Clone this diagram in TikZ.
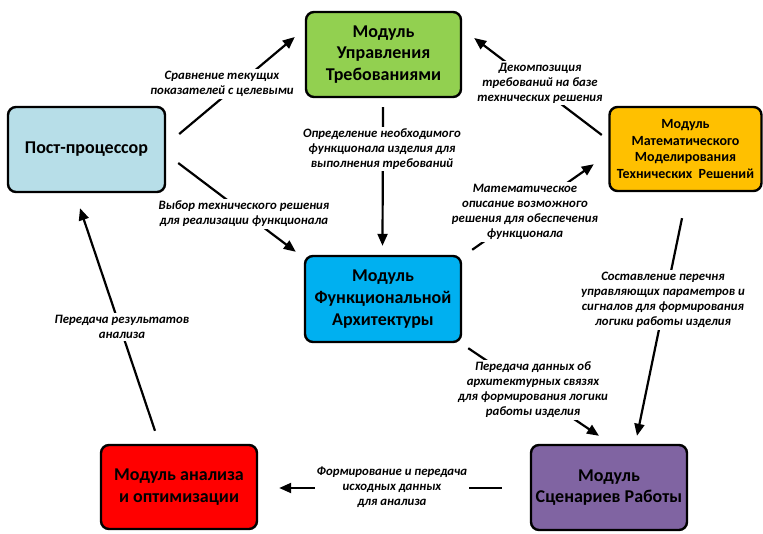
\documentclass[tikz,border=0pt]{standalone}
\usepackage{fontspec}
\setmainfont{Carlito}
\usetikzlibrary{arrows.meta}

\definecolor{reqgreen}{HTML}{92D050}
\definecolor{postblue}{HTML}{B7DEE8}
\definecolor{mathorange}{HTML}{FFC000}
\definecolor{funcblue}{HTML}{00B0F0}
\definecolor{anared}{HTML}{FF0000}
\definecolor{scenpurple}{HTML}{8064A2}

\begin{document}
\begin{tikzpicture}[x=1pt,y=-1pt,
  module/.style={draw=black, line width=2.4pt, rounded corners=8pt,
    align=center, inner sep=0pt,
    font=\bfseries\fontsize{18}{21.7}\selectfont},
  lbl/.style={fill=white, inner sep=2pt, align=center,
    font=\bfseries\itshape\fontsize{12.8}{15}\selectfont},
  arr/.style={line width=2.2pt, -{Triangle[length=12pt,width=10pt]}}]

\useasboundingbox (0,0) rectangle (763,534);

% modules
\node[module, fill=reqgreen, minimum width=155pt, minimum height=85pt]
  (req) at (383.5,54.5) {Модуль\\Управления\\Требованиями};
\node[module, fill=postblue, minimum width=157pt, minimum height=85pt]
  (post) at (86.5,149.5) {Пост-процессор};
\node[module, fill=mathorange, minimum width=152pt, minimum height=84pt,
  font=\bfseries\fontsize{14}{16.8}\selectfont]
  (math) at (685.5,149) {Модуль\\Математического\\Моделирования\\Технических\ \ Решений};
\node[module, fill=funcblue, minimum width=156pt, minimum height=86pt]
  (func) at (383,299) {Модуль\\Функциональной\\Архитектуры};
\node[module, fill=anared, minimum width=156pt, minimum height=84pt]
  (ana) at (179,487) {Модуль анализа\\и оптимизации};
\node[module, fill=scenpurple, minimum width=156pt, minimum height=85pt]
  (scen) at (609,487.5) {Модуль\\Сценариев Работы};

% connectors
\draw[arr] ([shift={(13,-15.5)}]post.east) -- ([shift={(-10,-17.5)}]req.west);
\draw[arr] ([shift={(-6.5,-14)}]math.west) -- ([shift={(12,-16.5)}]req.east);
\draw[arr] ([shift={(-0.5,9)}]req.south) -- ([shift={(-0.5,-9)}]func.north);
\draw[arr] ([shift={(12,13.5)}]post.east) -- ([shift={(-8,-3)}]func.north west);
\draw[arr] ([shift={(10,-5)}]func.north east) -- ([shift={(-14.5,-28)}]math.south west);
\draw[arr] ([shift={(-3.5,26)}]math.south) -- ([shift={(28,-8)}]scen.north);
\draw[arr] ([shift={(6,5)}]func.south east) -- ([shift={(-10,-8)}]scen.north);
\draw[arr] ([shift={(-28,0.5)}]scen.west) -- ([shift={(21,1)}]ana.east);
\draw[arr] ([shift={(-24,-13)}]ana.north) -- ([shift={(-6.5,15)}]post.south);

% connector labels
\node[lbl] (l1) at (222,84) {Сравнение текущих\\показателей с целевыми};
\node[lbl] (l2) at (540,83) {Декомпозиция\\требований на базе\\технических решения};
\node[lbl] (l3) at (382,149) {Определение необходимого\\функционала изделия для\\выполнения требований};
\node[lbl] (l4) at (244,214) {Выбор технического решения\\для реализации функционала};
\node[lbl] (l5) at (525,212) {Математическое\\описание возможного\\решения для обеспечения\\функционала};
\node[lbl] (l6) at (663,300) {Составление перечня\\управляющих параметров и\\сигналов для формирования\\логики работы изделия};
\node[lbl] (l7) at (533,390) {Передача данных об\\архитектурных связях\\для формирования логики\\работы изделия};
\node[lbl] (l8) at (392,487) {Формирование и передача\\исходных данных\\для анализа};
\node[lbl] (l9) at (122,327) {Передача результатов\\анализа};
\end{tikzpicture}
\end{document}
